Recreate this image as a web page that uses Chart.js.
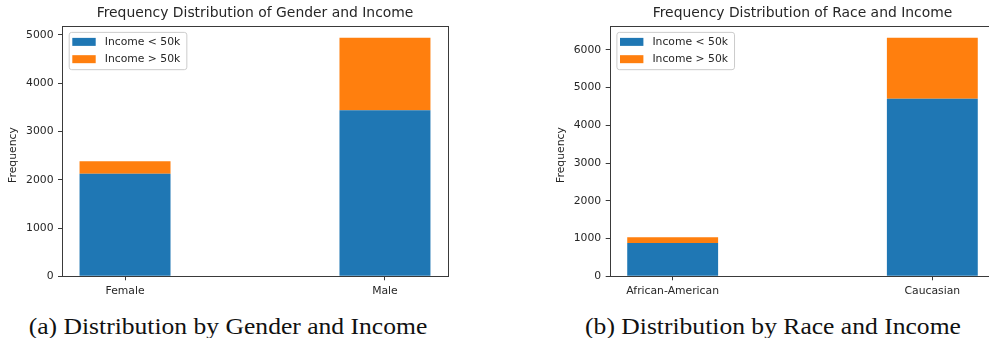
<!DOCTYPE html>
<html>
<head>
<meta charset="utf-8">
<script src="https://cdn.jsdelivr.net/npm/chart.js@4/dist/chart.umd.min.js"></script>
<style>
  html, body { margin: 0; padding: 0; background: #fff; overflow: hidden; width: 989px; height: 338px; }
  .panel { position: absolute; top: 0; }
  .caption {
    position: absolute; top: 314px; width: 460px; text-align: center; white-space: nowrap;
    font-family: "Liberation Serif", "DejaVu Serif", serif; font-size: 23.7px; line-height: 24px; color: #111;
    transform: scaleX(1.08); transform-origin: 50% 50%;
  }
</style>
</head>
<body>
<canvas id="gender" class="panel" width="470" height="305" style="left:0px"></canvas>
<canvas id="race" class="panel" width="470" height="305" style="left:540px"></canvas>
<div class="caption" style="left:-2.5px">(a) Distribution by Gender and Income</div>
<div class="caption" style="left:542.5px">(b) Distribution by Race and Income</div>
<script>
// Income counts per group (stacked: below 50k at the bottom, above 50k on top)
const genderCategories = ['Female', 'Male'];
const genderBelow50k = [2126, 3440];
const genderAbove50k = [257, 1499];

const raceCategories = ['African-American', 'Caucasian'];
const raceBelow50k = [883, 4703];
const raceAbove50k = [151, 1618];

const seriesLabels = ['Income < 50k', 'Income > 50k'];
const yAxisLabel = 'Frequency';
const yTickStep = 1000;

const BLUE = '#1f77b4';
const ORANGE = '#ff7f0e';
const FONT = 'DejaVu Sans';
const INK = '#262626';
const SPINE = '#3a3a3a';
const BAR_WIDTH = 0.35;   // bar width in category units
const TICK_FS = 10.8;

// Full box around the plotting area (all four spines)
const framePlugin = {
  id: 'frame',
  afterDatasetsDraw(chart) {
    const { ctx, chartArea: a } = chart;
    ctx.save();
    ctx.strokeStyle = SPINE;
    ctx.lineWidth = 1;
    ctx.strokeRect(Math.round(a.left) + 0.5, Math.round(a.top) + 0.5,
                   Math.round(a.right) - Math.round(a.left), Math.round(a.bottom) - Math.round(a.top));
    ctx.restore();
  }
};

// Rotated y-axis label, placed beside the tick labels
const yLabelPlugin = {
  id: 'yLabel',
  afterDraw(chart, args, opts) {
    const { ctx, chartArea: a } = chart;
    ctx.save();
    ctx.translate(opts.x, (a.top + a.bottom) / 2 + 4);
    ctx.rotate(-Math.PI / 2);
    ctx.font = `${TICK_FS}px "${FONT}"`;
    ctx.fillStyle = INK;
    ctx.textAlign = 'center';
    ctx.textBaseline = 'middle';
    ctx.fillText(opts.text, 0, 0);
    ctx.restore();
  }
};

// Framed legend in the upper-left corner of the plotting area
const boxLegendPlugin = {
  id: 'boxLegend',
  afterDraw(chart) {
    const { ctx, chartArea: a } = chart;
    const items = chart.data.datasets.map(d => ({ text: d.label, color: d.backgroundColor }));
    ctx.save();
    ctx.font = `${TICK_FS}px "${FONT}"`;
    const textW = Math.max(...items.map(i => ctx.measureText(i.text).width));
    const x0 = a.left + 6.7, y0 = a.top + 6;
    const padX = 3.6, handleW = 23.4, handleH = 8, textX = 36, rowH = 17.3, firstRow = 10;
    const w = textX + textW + 6;
    const h = firstRow * 2 + rowH * (items.length - 1);
    ctx.beginPath();
    ctx.roundRect(x0 + 0.5, y0 + 0.5, w, h, 2.5);
    ctx.fillStyle = 'rgba(255,255,255,0.8)';
    ctx.fill();
    ctx.strokeStyle = '#cccccc';
    ctx.lineWidth = 1;
    ctx.stroke();
    ctx.textBaseline = 'middle';
    ctx.textAlign = 'left';
    items.forEach((it, i) => {
      const cy = y0 + firstRow + i * rowH;
      ctx.fillStyle = it.color;
      ctx.fillRect(x0 + padX, cy - handleH / 2, handleW, handleH);
      ctx.fillStyle = INK;
      ctx.fillText(it.text, x0 + textX, cy + 0.5);
    });
    ctx.restore();
  }
};

function makeChart(id, categories, below, above, titleText, layoutOpts) {
  const totals = below.map((v, i) => v + above[i]);
  const yMax = Math.max(...totals) * 1.05;
  const span = (categories.length - 1) + BAR_WIDTH;
  const xMin = -BAR_WIDTH / 2 - 0.05 * span;
  const xMax = (categories.length - 1) + BAR_WIDTH / 2 + 0.05 * span;
  const tickFont = { family: FONT, size: TICK_FS };
  const tickGrid = { drawOnChartArea: false, drawTicks: true, tickLength: 4, color: SPINE, lineWidth: 1, offset: false };

  return new Chart(document.getElementById(id), {
    type: 'bar',
    data: {
      datasets: [
        { label: seriesLabels[0], data: below.map((v, i) => ({ x: i, y: v })), backgroundColor: BLUE, borderWidth: 0 },
        { label: seriesLabels[1], data: above.map((v, i) => ({ x: i, y: v })), backgroundColor: ORANGE, borderWidth: 0 }
      ]
    },
    options: {
      responsive: false,
      animation: false,
      events: [],
      datasets: { bar: { barPercentage: BAR_WIDTH, categoryPercentage: 1 } },
      layout: { padding: { left: 0, right: layoutOpts.padRight, top: 0, bottom: 0 } },
      plugins: {
        legend: { display: false },
        tooltip: { enabled: false },
        title: {
          display: true, text: titleText, fullSize: false, color: INK,
          font: { family: FONT, size: 13.9, weight: 'normal' },
          padding: { top: 5, bottom: 4.2 }
        },
        yLabel: { text: yAxisLabel, x: layoutOpts.yLabelX }
      },
      scales: {
        x: {
          type: 'linear', stacked: true, bounds: 'data', offset: false, min: xMin, max: xMax,
          afterBuildTicks(s) { s.ticks = categories.map((_, i) => ({ value: i })); },
          afterFit(s) { s.height = 28.7; },
          ticks: { callback: v => categories[v], color: INK, font: tickFont, padding: 4, maxRotation: 0, autoSkip: false },
          grid: tickGrid,
          border: { display: false }
        },
        y: {
          stacked: true, bounds: 'data', min: 0, max: yMax,
          afterBuildTicks(s) {
            const t = [];
            for (let v = 0; v <= s.max; v += yTickStep) t.push({ value: v });
            s.ticks = t;
          },
          afterFit(s) { s.width = layoutOpts.yWidth; },
          ticks: { callback: v => String(v), color: INK, font: tickFont, padding: 4.5 },
          grid: tickGrid,
          border: { display: false }
        }
      }
    },
    plugins: [framePlugin, yLabelPlugin, boxLegendPlugin]
  });
}

makeChart('gender', genderCategories, genderBelow50k, genderAbove50k,
  'Frequency Distribution of Gender and Income', { padRight: 22, yWidth: 62, yLabelX: 13.5 });
makeChart('race', raceCategories, raceBelow50k, raceAbove50k,
  'Frequency Distribution of Race and Income', { padRight: 14.7, yWidth: 69.7, yLabelX: 20.7 });
</script>
</body>
</html>
